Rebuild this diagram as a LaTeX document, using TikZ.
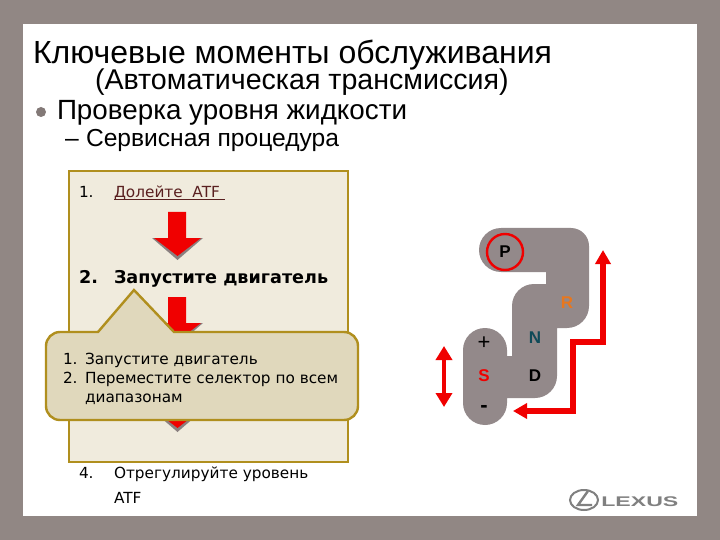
\documentclass[tikz,border=0pt]{standalone}
\usepackage{fontspec}
\setmainfont{Liberation Sans}
\newfontfamily\vfont{DejaVu Sans}
\usetikzlibrary{arrows.meta}
\definecolor{frameC}{HTML}{918784}
\definecolor{gearC}{HTML}{93898A}
\definecolor{panelC}{HTML}{F0EBDD}
\definecolor{calloutC}{HTML}{E0D8BC}
\definecolor{edgeC}{HTML}{B08F1E}
\definecolor{redC}{HTML}{F00000}
\definecolor{shadowC}{HTML}{8A8080}
\definecolor{linkC}{HTML}{5A2020}
\definecolor{tealC}{HTML}{0F4A58}
\definecolor{orangeC}{HTML}{E8771E}
\definecolor{logoC}{HTML}{808080}
\tikzset{
 txt/.style={anchor=base west,inner sep=0pt,outer sep=0pt,text=black},
 body/.style={txt,font=\vfont\fontsize{15.3}{15}\selectfont},
 boldbody/.style={txt,font=\vfont\bfseries\fontsize{17.6}{18}\selectfont},
 gearlabel/.style={anchor=center,inner sep=0pt,font=\fontsize{17}{17}\selectfont\bfseries},
 redline/.style={draw=redC,line width=5.5pt},
 panelbox/.style={draw=edgeC,line width=2pt,fill=panelC},
 callbox/.style={draw=edgeC,line width=2.4pt,fill=calloutC,line join=miter},
}
\newcommand{\downarrowshape}[2]{%
 \fill[shadowC] (152,#2) -- (203,#2) -- (177.5,#2+22) -- cycle;
 \fill[redC] (168,#1) -- (186,#1) -- (186,#2) -- (201,#2) -- (177.5,#2+18) -- (154,#2) -- (168,#2) -- cycle;
}
\begin{document}
\begin{tikzpicture}[x=1pt,y=-1pt]
\useasboundingbox (0,0) rectangle (720,540);
\fill[frameC] (0,0) rectangle (720,540);
\fill[white] (23,24) rectangle (697,516);
% headings
\node[txt,font=\fontsize{32}{32}\selectfont] (title) at (33,64) {Ключевые моменты обслуживания};
\node[txt,font=\fontsize{28.6}{29}\selectfont] (sub) at (95,90) {(Автоматическая трансмиссия)};
\fill[frameC!90!black] (41,112) circle (5);
\node[txt,font=\fontsize{27.8}{28}\selectfont] (lvl) at (57,120) {Проверка уровня жидкости};
\node[txt,font=\fontsize{24.6}{25}\selectfont] (dash) at (65,147) {–};
\node[txt,font=\fontsize{24.6}{25}\selectfont] (proc) at (86,147) {Сервисная процедура};
% panel
\draw[panelbox] (69,171) rectangle (348,462);
\node[body] (n1) at (79,197) {1.};
\node[body,text=linkC] (s1) at (114,197) {Долейте\ \ ATF};
\draw[linkC,line width=.7pt] (114,199.5) -- (225,199.5);
\node[boldbody] (n2) at (79,283) {2.};
\node[boldbody] (s2) at (114,283) {Запустите двигатель};
\downarrowshape{212}{238}
\downarrowshape{297}{323}
\downarrowshape{385}{410}
% callout
\draw[callbox] (60,332) -- (98,332) -- (134,290) -- (174,332) -- (344,332)
  arc[start angle=-90,end angle=0,radius=14] -- (358,406)
  arc[start angle=0,end angle=90,radius=14] -- (60,420)
  arc[start angle=90,end angle=180,radius=14] -- (46,346)
  arc[start angle=180,end angle=270,radius=14] -- cycle;
\node[body] (c1) at (63,364) {1.};
\node[body] (c1t) at (85,364) {Запустите двигатель};
\node[body] (c2) at (63,383) {2.};
\node[body] (c2t) at (85,383) {Переместите селектор по всем};
\node[body] (c3t) at (85,402) {диапазонам};
\node[body] (n4) at (79,478) {4.};
\node[body] (s4) at (114,478) {Отрегулируйте уровень};
\node[body] (s4b) at (114,503) {ATF};
% gear gate
\fill[gearC] (479,250) arc[start angle=180,end angle=270,radius=22] -- (571,228)
  arc[start angle=-90,end angle=0,radius=18] -- (589,306)
  arc[start angle=0,end angle=90,radius=22] -- (557,328) -- (557,376)
  arc[start angle=0,end angle=90,radius=22] -- (507,398) -- (507,403)
  arc[start angle=0,end angle=180,radius=22] -- (463,350)
  arc[start angle=180,end angle=360,radius=22] -- (507,356) -- (512,356) -- (512,306)
  arc[start angle=180,end angle=270,radius=22] -- (546,284) -- (546,272) -- (501,272)
  arc[start angle=90,end angle=180,radius=22] -- cycle;
\draw[redC,line width=2.4pt] (505,252) circle (18);
\node[gearlabel] (P) at (505,252) {P};
\node[gearlabel,text=orangeC] (R) at (567,303) {R};
\node[gearlabel,text=tealC] (N) at (535,338) {N};
\node[gearlabel] (D) at (535,376) {D};
\node[gearlabel,font=\fontsize{22}{22}\selectfont] (plus) at (484,343) {+};
\node[gearlabel,text=redC] (S) at (484,376) {S};
\node[gearlabel,font=\fontsize{22}{22}\selectfont\bfseries] (minus) at (484,409) {-};
% red arrows
\coordinate (dt) at (444,346);
\coordinate (db) at (444,407);
\draw[draw=redC,line width=4pt,{Triangle[length=14pt,width=16pt]}-{Triangle[length=14pt,width=16pt]},redC] (dt) -- (db);
\coordinate (ra) at (603,250);
\coordinate (rb) at (603,342);
\coordinate (rc) at (573,342);
\coordinate (rd) at (573,411);
\coordinate (re) at (513,411);
\draw[redline,{Triangle[length=14pt,width=15pt]}-{Triangle[length=14pt,width=15pt]},redC,line join=miter] (ra) -- (rb) -- (rc) -- (rd) -- (re);
% logo
\draw[logoC,line width=2pt] (584,500) ellipse (14 and 10);
\draw[logoC,line width=2.4pt] (588,491) -- (578,505) -- (592,505);
\node[anchor=base west,inner sep=0,text=logoC,font=\fontsize{14}{14}\selectfont\bfseries,xscale=1.65] (logo) at (601,506) {LEXUS};
\end{tikzpicture}
\end{document}
